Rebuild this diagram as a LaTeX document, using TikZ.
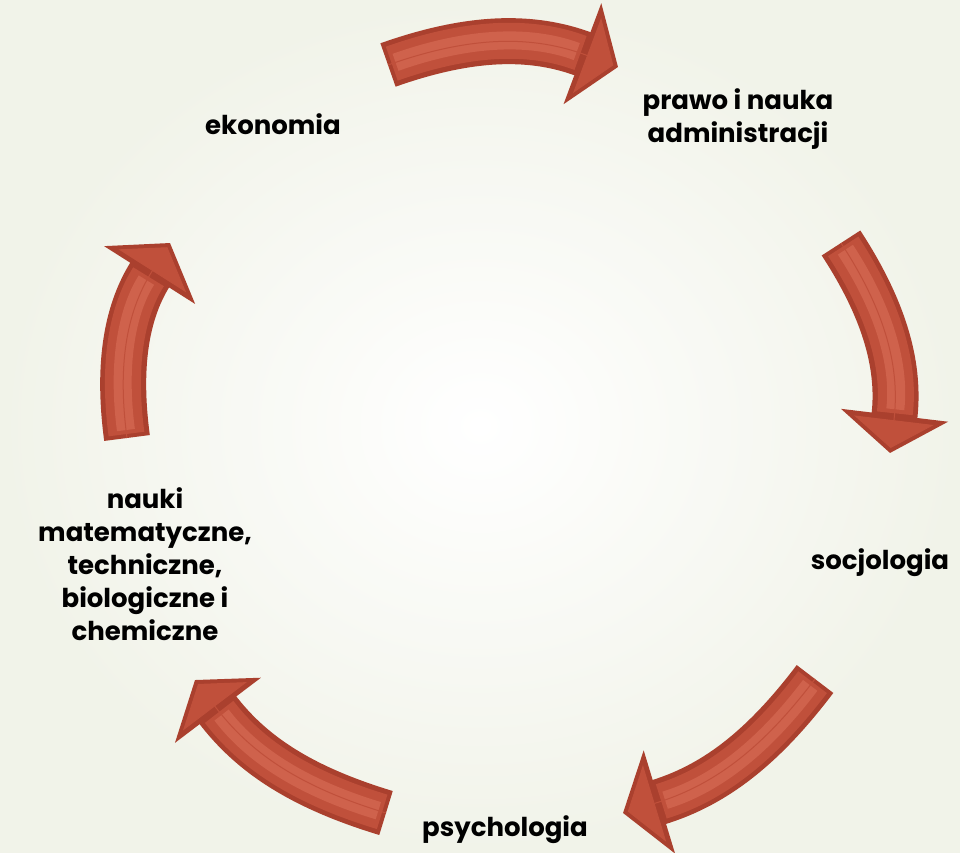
\documentclass[tikz,border=0pt]{standalone}
\usepackage{fontspec}
\setmainfont{Poppins}
\usetikzlibrary{arrows.meta}

\definecolor{bgedge}{HTML}{F1F3E9}
\definecolor{arrowdark}{HTML}{AA402E}
\definecolor{arrowmid}{HTML}{C0503B}
\definecolor{arrowlight}{HTML}{CF624C}

\tikzset{
    topic/.style={font=\bfseries\fontsize{26}{33}\selectfont, align=center, text=black},
    cyclearrow/.style={line width=46pt, draw=arrowdark, -{Triangle[length=38pt,width=106pt]}},
    arrowface/.style={line width=36pt, draw=arrowmid, shorten <=4pt, shorten >=40pt},
    arrowshine/.style={line width=18pt, draw=arrowlight, shorten <=8pt, shorten >=44pt}
}

\begin{document}
\begin{tikzpicture}[x=1pt,y=1pt]
        % Background
        \useasboundingbox (0,0) rectangle (960,852);
        \shade[inner color=white, outer color=bgedge] (0,0) rectangle (960,852);

        % Topics
        \node[topic] (eko) at (273,728) {ekonomia};
        \node[topic] (prawo) at (738,733) {prawo i nauka\\administracji};
        \node[topic] (soc) at (880,289) {socjologia};
        \node[topic] (psy) at (505,22) {psychologia};
        \node[topic] (nauki) at (145,288) {nauki\\matematyczne,\\techniczne,\\biologiczne i\\chemiczne};

        % Arrow ends
        \coordinate (a1s) at (388,787);
        \coordinate (a1e) at (618,785);
        \coordinate (a2s) at (841,609);
        \coordinate (a2e) at (890,399);
        \coordinate (a3s) at (815,173);
        \coordinate (a3e) at (623,39);
        \coordinate (a4s) at (386,39);
        \coordinate (a4e) at (195,172);
        \coordinate (a5s) at (127,414);
        \coordinate (a5e) at (170,609);

        % Cycle arrows
        \foreach \s/\e/\b in {a1s/a1e/20, a2s/a2e/20, a3s/a3e/18, a4s/a4e/18, a5s/a5e/20} {
            \draw[cyclearrow] (\s) to[bend left=\b] (\e);
            \draw[arrowface] (\s) to[bend left=\b] (\e);
            \draw[arrowshine] (\s) to[bend left=\b] (\e);
            \draw[line width=1pt, draw=arrowmid, shorten >=5pt,
                  -{Triangle[length=28pt,width=80pt]}] (\s) to[bend left=\b] (\e);
        }
\end{tikzpicture}
\end{document}
